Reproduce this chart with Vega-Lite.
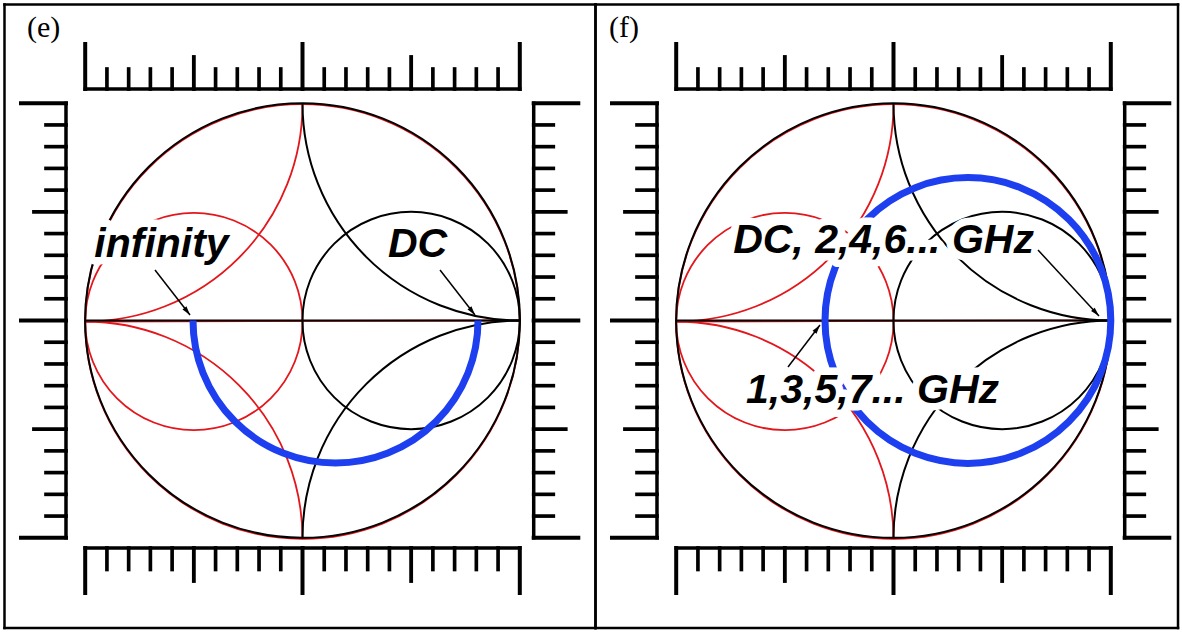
{
  "$schema": "https://vega.github.io/schema/vega-lite/v6.json",
  "padding": 0,
  "background": "white",
  "spacing": 0,
  "bounds": "flush",
  "config": {"view": {"stroke": null}},
  "datasets": {
    "grid": [
      {"chart": "Y", "x": 0, "y": 0, "r": 1, "a1": 0, "a2": 360},
      {"chart": "Z", "x": 0, "y": 0, "r": 1, "a1": 0, "a2": 360},
      {"chart": "Z", "x": 0.5, "y": 0, "r": 0.5, "a1": 0, "a2": 360},
      {"chart": "Y", "x": -0.5, "y": 0, "r": 0.5, "a1": 0, "a2": 360},
      {"chart": "Z", "x": 1, "y": 1, "r": 1, "a1": 180, "a2": 270},
      {"chart": "Z", "x": 1, "y": -1, "r": 1, "a1": 270, "a2": 360},
      {"chart": "Y", "x": -1, "y": 1, "r": 1, "a1": 90, "a2": 180},
      {"chart": "Y", "x": -1, "y": -1, "r": 1, "a1": 0, "a2": 90}
    ],
    "realaxis": [
      {"x": -1, "y": 0, "x2": 1, "y2": 0}
    ],
    "trace": [
      {"panel": "e", "x": 0.1519, "y": 0, "r": 0.6558, "a1": 90, "a2": 270},
      {"panel": "f", "x": 0.3424, "y": 0, "r": 0.6576, "a1": 0, "a2": 360}
    ],
    "notes": [
      {"panel": "e", "text": "infinity", "x": -0.6489, "y": 0.2922},
      {"panel": "e", "text": "DC", "x": 0.5292, "y": 0.2922},
      {"panel": "f", "text": "DC, 2,4,6... GHz", "x": -0.046, "y": 0.3106},
      {"panel": "f", "text": "1,3,5,7... GHz", "x": -0.0966, "y": -0.3797}
    ],
    "arrows": [
      {"panel": "e", "x": -0.5177, "y": 0.0253, "x2": -0.6788, "y2": 0.2324, "angle": 142.1},
      {"panel": "e", "x": 0.7938, "y": 0.0253, "x2": 0.6328, "y2": 0.2324, "angle": 142.1},
      {"panel": "f", "x": 0.9457, "y": 0.0207, "x2": 0.665, "y2": 0.3244, "angle": 137.3},
      {"panel": "f", "x": -0.3383, "y": -0.0207, "x2": -0.4855, "y2": -0.214, "angle": 37.3}
    ],
    "tags": [
      {"panel": "e", "text": "(e)", "x": -1.2678, "y": 1.3047},
      {"panel": "f", "text": "(f)", "x": -1.3093, "y": 1.3047}
    ],
    "border": [
      {"panel": "e", "x": -1.3772, "y": 1.4542, "x2": 1.3542, "y2": 1.4542},
      {"panel": "e", "x": -1.3772, "y": -1.4151, "x2": 1.3542, "y2": -1.4151},
      {"panel": "e", "x": -1.3714, "y": -1.4209, "x2": -1.3714, "y2": 1.46},
      {"panel": "e", "x": 1.3484, "y": -1.4209, "x2": 1.3484, "y2": 1.46},
      {"panel": "f", "x": -1.3772, "y": 1.4542, "x2": 1.3151, "y2": 1.4542},
      {"panel": "f", "x": -1.3772, "y": -1.4151, "x2": 1.3151, "y2": -1.4151},
      {"panel": "f", "x": -1.3714, "y": -1.4209, "x2": -1.3714, "y2": 1.46},
      {"panel": "f", "x": 1.3093, "y": -1.4209, "x2": 1.3093, "y2": 1.46}
    ],
    "ruler": [
      {"k": "base", "x": -1, "y": 1.0653, "x2": 1, "y2": 1.0653},
      {"k": "b", "x": -1, "y": 1.0653, "x2": -1, "y2": 1.2724},
      {"k": "s", "x": -0.9, "y": 1.0653, "x2": -0.9, "y2": 1.1574},
      {"k": "s", "x": -0.8, "y": 1.0653, "x2": -0.8, "y2": 1.1574},
      {"k": "s", "x": -0.7, "y": 1.0653, "x2": -0.7, "y2": 1.1574},
      {"k": "s", "x": -0.6, "y": 1.0653, "x2": -0.6, "y2": 1.1574},
      {"k": "m", "x": -0.5, "y": 1.0653, "x2": -0.5, "y2": 1.2126},
      {"k": "s", "x": -0.4, "y": 1.0653, "x2": -0.4, "y2": 1.1574},
      {"k": "s", "x": -0.3, "y": 1.0653, "x2": -0.3, "y2": 1.1574},
      {"k": "s", "x": -0.2, "y": 1.0653, "x2": -0.2, "y2": 1.1574},
      {"k": "s", "x": -0.1, "y": 1.0653, "x2": -0.1, "y2": 1.1574},
      {"k": "b", "x": 0, "y": 1.0653, "x2": 0, "y2": 1.2724},
      {"k": "s", "x": 0.1, "y": 1.0653, "x2": 0.1, "y2": 1.1574},
      {"k": "s", "x": 0.2, "y": 1.0653, "x2": 0.2, "y2": 1.1574},
      {"k": "s", "x": 0.3, "y": 1.0653, "x2": 0.3, "y2": 1.1574},
      {"k": "s", "x": 0.4, "y": 1.0653, "x2": 0.4, "y2": 1.1574},
      {"k": "m", "x": 0.5, "y": 1.0653, "x2": 0.5, "y2": 1.2126},
      {"k": "s", "x": 0.6, "y": 1.0653, "x2": 0.6, "y2": 1.1574},
      {"k": "s", "x": 0.7, "y": 1.0653, "x2": 0.7, "y2": 1.1574},
      {"k": "s", "x": 0.8, "y": 1.0653, "x2": 0.8, "y2": 1.1574},
      {"k": "s", "x": 0.9, "y": 1.0653, "x2": 0.9, "y2": 1.1574},
      {"k": "b", "x": 1, "y": 1.0653, "x2": 1, "y2": 1.2724},

      {"k": "base", "x": -1, "y": -1.0469, "x2": 1, "y2": -1.0469},
      {"k": "b", "x": -1, "y": -1.0469, "x2": -1, "y2": -1.254},
      {"k": "s", "x": -0.9, "y": -1.0469, "x2": -0.9, "y2": -1.1459},
      {"k": "s", "x": -0.8, "y": -1.0469, "x2": -0.8, "y2": -1.1459},
      {"k": "s", "x": -0.7, "y": -1.0469, "x2": -0.7, "y2": -1.1459},
      {"k": "s", "x": -0.6, "y": -1.0469, "x2": -0.6, "y2": -1.1459},
      {"k": "m", "x": -0.5, "y": -1.0469, "x2": -0.5, "y2": -1.1988},
      {"k": "s", "x": -0.4, "y": -1.0469, "x2": -0.4, "y2": -1.1459},
      {"k": "s", "x": -0.3, "y": -1.0469, "x2": -0.3, "y2": -1.1459},
      {"k": "s", "x": -0.2, "y": -1.0469, "x2": -0.2, "y2": -1.1459},
      {"k": "s", "x": -0.1, "y": -1.0469, "x2": -0.1, "y2": -1.1459},
      {"k": "b", "x": 0, "y": -1.0469, "x2": 0, "y2": -1.254},
      {"k": "s", "x": 0.1, "y": -1.0469, "x2": 0.1, "y2": -1.1459},
      {"k": "s", "x": 0.2, "y": -1.0469, "x2": 0.2, "y2": -1.1459},
      {"k": "s", "x": 0.3, "y": -1.0469, "x2": 0.3, "y2": -1.1459},
      {"k": "s", "x": 0.4, "y": -1.0469, "x2": 0.4, "y2": -1.1459},
      {"k": "m", "x": 0.5, "y": -1.0469, "x2": 0.5, "y2": -1.1988},
      {"k": "s", "x": 0.6, "y": -1.0469, "x2": 0.6, "y2": -1.1459},
      {"k": "s", "x": 0.7, "y": -1.0469, "x2": 0.7, "y2": -1.1459},
      {"k": "s", "x": 0.8, "y": -1.0469, "x2": 0.8, "y2": -1.1459},
      {"k": "s", "x": 0.9, "y": -1.0469, "x2": 0.9, "y2": -1.1459},
      {"k": "b", "x": 1, "y": -1.0469, "x2": 1, "y2": -1.254},

      {"k": "base", "x": -1.0884, "y": -1, "x2": -1.0884, "y2": 1},
      {"k": "b", "x": -1.0884, "y": -1, "x2": -1.2954, "y2": -1},
      {"k": "s", "x": -1.0884, "y": -0.9, "x2": -1.1804, "y2": -0.9},
      {"k": "s", "x": -1.0884, "y": -0.8, "x2": -1.1804, "y2": -0.8},
      {"k": "s", "x": -1.0884, "y": -0.7, "x2": -1.1804, "y2": -0.7},
      {"k": "s", "x": -1.0884, "y": -0.6, "x2": -1.1804, "y2": -0.6},
      {"k": "m", "x": -1.0884, "y": -0.5, "x2": -1.2356, "y2": -0.5},
      {"k": "s", "x": -1.0884, "y": -0.4, "x2": -1.1804, "y2": -0.4},
      {"k": "s", "x": -1.0884, "y": -0.3, "x2": -1.1804, "y2": -0.3},
      {"k": "s", "x": -1.0884, "y": -0.2, "x2": -1.1804, "y2": -0.2},
      {"k": "s", "x": -1.0884, "y": -0.1, "x2": -1.1804, "y2": -0.1},
      {"k": "b", "x": -1.0884, "y": 0, "x2": -1.2954, "y2": 0},
      {"k": "s", "x": -1.0884, "y": 0.1, "x2": -1.1804, "y2": 0.1},
      {"k": "s", "x": -1.0884, "y": 0.2, "x2": -1.1804, "y2": 0.2},
      {"k": "s", "x": -1.0884, "y": 0.3, "x2": -1.1804, "y2": 0.3},
      {"k": "s", "x": -1.0884, "y": 0.4, "x2": -1.1804, "y2": 0.4},
      {"k": "m", "x": -1.0884, "y": 0.5, "x2": -1.2356, "y2": 0.5},
      {"k": "s", "x": -1.0884, "y": 0.6, "x2": -1.1804, "y2": 0.6},
      {"k": "s", "x": -1.0884, "y": 0.7, "x2": -1.1804, "y2": 0.7},
      {"k": "s", "x": -1.0884, "y": 0.8, "x2": -1.1804, "y2": 0.8},
      {"k": "s", "x": -1.0884, "y": 0.9, "x2": -1.1804, "y2": 0.9},
      {"k": "b", "x": -1.0884, "y": 1, "x2": -1.2954, "y2": 1},

      {"k": "base", "x": 1.064, "y": -1, "x2": 1.064, "y2": 1},
      {"k": "b", "x": 1.064, "y": -1, "x2": 1.2692, "y2": -1},
      {"k": "s", "x": 1.064, "y": -0.9, "x2": 1.1542, "y2": -0.9},
      {"k": "s", "x": 1.064, "y": -0.8, "x2": 1.1542, "y2": -0.8},
      {"k": "s", "x": 1.064, "y": -0.7, "x2": 1.1542, "y2": -0.7},
      {"k": "s", "x": 1.064, "y": -0.6, "x2": 1.1542, "y2": -0.6},
      {"k": "m", "x": 1.064, "y": -0.5, "x2": 1.2112, "y2": -0.5},
      {"k": "s", "x": 1.064, "y": -0.4, "x2": 1.1542, "y2": -0.4},
      {"k": "s", "x": 1.064, "y": -0.3, "x2": 1.1542, "y2": -0.3},
      {"k": "s", "x": 1.064, "y": -0.2, "x2": 1.1542, "y2": -0.2},
      {"k": "s", "x": 1.064, "y": -0.1, "x2": 1.1542, "y2": -0.1},
      {"k": "b", "x": 1.064, "y": 0, "x2": 1.2692, "y2": 0},
      {"k": "s", "x": 1.064, "y": 0.1, "x2": 1.1542, "y2": 0.1},
      {"k": "s", "x": 1.064, "y": 0.2, "x2": 1.1542, "y2": 0.2},
      {"k": "s", "x": 1.064, "y": 0.3, "x2": 1.1542, "y2": 0.3},
      {"k": "s", "x": 1.064, "y": 0.4, "x2": 1.1542, "y2": 0.4},
      {"k": "m", "x": 1.064, "y": 0.5, "x2": 1.2112, "y2": 0.5},
      {"k": "s", "x": 1.064, "y": 0.6, "x2": 1.1542, "y2": 0.6},
      {"k": "s", "x": 1.064, "y": 0.7, "x2": 1.1542, "y2": 0.7},
      {"k": "s", "x": 1.064, "y": 0.8, "x2": 1.1542, "y2": 0.8},
      {"k": "s", "x": 1.064, "y": 0.9, "x2": 1.1542, "y2": 0.9},
      {"k": "b", "x": 1.064, "y": 1, "x2": 1.2692, "y2": 1}
    ]
  },
  "hconcat": [
    {
      "width": 591,
      "height": 632,
      "encoding": {
        "x": {"field": "x", "type": "quantitative", "scale": {"domain": [-1.39208, 1.32766], "nice": false, "zero": false}, "axis": null},
        "y": {"field": "y", "type": "quantitative", "scale": {"domain": [-1.4335, 1.47492], "nice": false, "zero": false}, "axis": null}
      },
      "layer": [
        {
          "data": {"name": "border"},
          "transform": [{"filter": "datum.panel === 'e'"}],
          "mark": {"type": "rule", "stroke": "black", "strokeWidth": 2.5, "strokeCap": "butt"},
          "encoding": {"x2": {"field": "x2"}, "y2": {"field": "y2"}}
        },
        {
          "data": {"name": "ruler"},
          "mark": {"type": "rule", "stroke": "black", "strokeCap": "square"},
          "encoding": {
            "x2": {"field": "x2"}, "y2": {"field": "y2"},
            "size": {"field": "k", "type": "ordinal", "scale": {"domain": ["b", "m", "s", "base"], "range": [4, 3.5, 2, 3]}, "legend": null}
          }
        },
        {
          "data": {"name": "grid"},
          "transform": [{"filter": "datum.chart === 'Y'"}],
          "mark": {"type": "arc", "filled": false, "stroke": "#e3161c", "strokeWidth": 1.8, "yOffset": 1},
          "encoding": {
            "theta": {"field": "a1", "type": "quantitative", "scale": {"domain": [0, 360], "range": [0, 6.283185307179586], "zero": false, "nice": false}, "stack": null},
            "theta2": {"field": "a2"},
            "radius": {"field": "r", "type": "quantitative", "scale": {"type": "linear", "domain": [0, 1], "range": [0, 217.3], "zero": false, "nice": false}},
            "radius2": {"field": "r"}
          }
        },
        {
          "data": {"name": "realaxis"},
          "mark": {"type": "rule", "stroke": "#e3161c", "strokeWidth": 1.8, "yOffset": 1},
          "encoding": {"x2": {"field": "x2"}, "y2": {"field": "y2"}}
        },
        {
          "data": {"name": "grid"},
          "transform": [{"filter": "datum.chart === 'Z'"}],
          "mark": {"type": "arc", "filled": false, "stroke": "#000000", "strokeWidth": 2},
          "encoding": {
            "theta": {"field": "a1", "type": "quantitative", "scale": {"domain": [0, 360], "range": [0, 6.283185307179586], "zero": false, "nice": false}, "stack": null},
            "theta2": {"field": "a2"},
            "radius": {"field": "r", "type": "quantitative", "scale": {"type": "linear", "domain": [0, 1], "range": [0, 217.3], "zero": false, "nice": false}},
            "radius2": {"field": "r"}
          }
        },
        {
          "data": {"name": "realaxis"},
          "mark": {"type": "rule", "stroke": "#000000", "strokeWidth": 2},
          "encoding": {"x2": {"field": "x2"}, "y2": {"field": "y2"}}
        },
        {
          "data": {"name": "trace"},
          "transform": [{"filter": "datum.panel === 'e'"}],
          "mark": {"type": "arc", "filled": false, "stroke": "#1d3ff0", "strokeWidth": 7},
          "encoding": {
            "theta": {"field": "a1", "type": "quantitative", "scale": {"domain": [0, 360], "range": [0, 6.283185307179586], "zero": false, "nice": false}, "stack": null},
            "theta2": {"field": "a2"},
            "radius": {"field": "r", "type": "quantitative", "scale": {"type": "linear", "domain": [0, 1], "range": [0, 217.3], "zero": false, "nice": false}},
            "radius2": {"field": "r"}
          }
        },
        {
          "data": {"name": "notes"},
          "transform": [{"filter": "datum.panel === 'e'"}],
          "mark": {"type": "text", "font": "Liberation Sans", "fontSize": 41, "fontWeight": "bold", "fontStyle": "italic", "align": "center", "baseline": "alphabetic", "fill": "white", "stroke": "white", "strokeWidth": 15, "strokeJoin": "round"},
          "encoding": {"text": {"field": "text"}}
        },
        {
          "data": {"name": "notes"},
          "transform": [{"filter": "datum.panel === 'e'"}],
          "mark": {"type": "text", "font": "Liberation Sans", "fontSize": 41, "fontWeight": "bold", "fontStyle": "italic", "align": "center", "baseline": "alphabetic", "fill": "black"},
          "encoding": {"text": {"field": "text"}}
        },
        {
          "data": {"name": "arrows"},
          "transform": [{"filter": "datum.panel === 'e'"}],
          "mark": {"type": "rule", "stroke": "black", "strokeWidth": 1.5},
          "encoding": {"x2": {"field": "x2"}, "y2": {"field": "y2"}}
        },
        {
          "data": {"name": "arrows"},
          "transform": [{"filter": "datum.panel === 'e'"}],
          "mark": {"type": "point", "filled": true, "color": "black", "opacity": 1, "size": 100, "shape": "M0,0L-0.5,1.8L0.5,1.8Z"},
          "encoding": {"angle": {"field": "angle", "type": "quantitative", "scale": null}}
        },
        {
          "data": {"name": "tags"},
          "transform": [{"filter": "datum.panel === 'e'"}],
          "mark": {"type": "text", "font": "Liberation Serif", "fontSize": 30, "align": "left", "baseline": "alphabetic", "fill": "black"},
          "encoding": {"text": {"field": "text"}}
        }
      ]
    },
    {
      "width": 591,
      "height": 632,
      "encoding": {
        "x": {"field": "x", "type": "quantitative", "scale": {"domain": [-1.39208, 1.32766], "nice": false, "zero": false}, "axis": null},
        "y": {"field": "y", "type": "quantitative", "scale": {"domain": [-1.4335, 1.47492], "nice": false, "zero": false}, "axis": null}
      },
      "layer": [
        {
          "data": {"name": "border"},
          "transform": [{"filter": "datum.panel === 'f'"}],
          "mark": {"type": "rule", "stroke": "black", "strokeWidth": 2.5, "strokeCap": "butt"},
          "encoding": {"x2": {"field": "x2"}, "y2": {"field": "y2"}}
        },
        {
          "data": {"name": "ruler"},
          "mark": {"type": "rule", "stroke": "black", "strokeCap": "square"},
          "encoding": {
            "x2": {"field": "x2"}, "y2": {"field": "y2"},
            "size": {"field": "k", "type": "ordinal", "scale": {"domain": ["b", "m", "s", "base"], "range": [4, 3.5, 2, 3]}, "legend": null}
          }
        },
        {
          "data": {"name": "grid"},
          "transform": [{"filter": "datum.chart === 'Y'"}],
          "mark": {"type": "arc", "filled": false, "stroke": "#e3161c", "strokeWidth": 1.8, "yOffset": 1},
          "encoding": {
            "theta": {"field": "a1", "type": "quantitative", "scale": {"domain": [0, 360], "range": [0, 6.283185307179586], "zero": false, "nice": false}, "stack": null},
            "theta2": {"field": "a2"},
            "radius": {"field": "r", "type": "quantitative", "scale": {"type": "linear", "domain": [0, 1], "range": [0, 217.3], "zero": false, "nice": false}},
            "radius2": {"field": "r"}
          }
        },
        {
          "data": {"name": "realaxis"},
          "mark": {"type": "rule", "stroke": "#e3161c", "strokeWidth": 1.8, "yOffset": 1},
          "encoding": {"x2": {"field": "x2"}, "y2": {"field": "y2"}}
        },
        {
          "data": {"name": "grid"},
          "transform": [{"filter": "datum.chart === 'Z'"}],
          "mark": {"type": "arc", "filled": false, "stroke": "#000000", "strokeWidth": 2},
          "encoding": {
            "theta": {"field": "a1", "type": "quantitative", "scale": {"domain": [0, 360], "range": [0, 6.283185307179586], "zero": false, "nice": false}, "stack": null},
            "theta2": {"field": "a2"},
            "radius": {"field": "r", "type": "quantitative", "scale": {"type": "linear", "domain": [0, 1], "range": [0, 217.3], "zero": false, "nice": false}},
            "radius2": {"field": "r"}
          }
        },
        {
          "data": {"name": "realaxis"},
          "mark": {"type": "rule", "stroke": "#000000", "strokeWidth": 2},
          "encoding": {"x2": {"field": "x2"}, "y2": {"field": "y2"}}
        },
        {
          "data": {"name": "trace"},
          "transform": [{"filter": "datum.panel === 'f'"}],
          "mark": {"type": "arc", "filled": false, "stroke": "#1d3ff0", "strokeWidth": 7},
          "encoding": {
            "theta": {"field": "a1", "type": "quantitative", "scale": {"domain": [0, 360], "range": [0, 6.283185307179586], "zero": false, "nice": false}, "stack": null},
            "theta2": {"field": "a2"},
            "radius": {"field": "r", "type": "quantitative", "scale": {"type": "linear", "domain": [0, 1], "range": [0, 217.3], "zero": false, "nice": false}},
            "radius2": {"field": "r"}
          }
        },
        {
          "data": {"name": "notes"},
          "transform": [{"filter": "datum.panel === 'f'"}],
          "mark": {"type": "text", "font": "Liberation Sans", "fontSize": 41, "fontWeight": "bold", "fontStyle": "italic", "align": "center", "baseline": "alphabetic", "fill": "white", "stroke": "white", "strokeWidth": 15, "strokeJoin": "round"},
          "encoding": {"text": {"field": "text"}}
        },
        {
          "data": {"name": "notes"},
          "transform": [{"filter": "datum.panel === 'f'"}],
          "mark": {"type": "text", "font": "Liberation Sans", "fontSize": 41, "fontWeight": "bold", "fontStyle": "italic", "align": "center", "baseline": "alphabetic", "fill": "black"},
          "encoding": {"text": {"field": "text"}}
        },
        {
          "data": {"name": "arrows"},
          "transform": [{"filter": "datum.panel === 'f'"}],
          "mark": {"type": "rule", "stroke": "black", "strokeWidth": 1.5},
          "encoding": {"x2": {"field": "x2"}, "y2": {"field": "y2"}}
        },
        {
          "data": {"name": "arrows"},
          "transform": [{"filter": "datum.panel === 'f'"}],
          "mark": {"type": "point", "filled": true, "color": "black", "opacity": 1, "size": 100, "shape": "M0,0L-0.5,1.8L0.5,1.8Z"},
          "encoding": {"angle": {"field": "angle", "type": "quantitative", "scale": null}}
        },
        {
          "data": {"name": "tags"},
          "transform": [{"filter": "datum.panel === 'f'"}],
          "mark": {"type": "text", "font": "Liberation Serif", "fontSize": 30, "align": "left", "baseline": "alphabetic", "fill": "black"},
          "encoding": {"text": {"field": "text"}}
        }
      ]
    }
  ]
}
